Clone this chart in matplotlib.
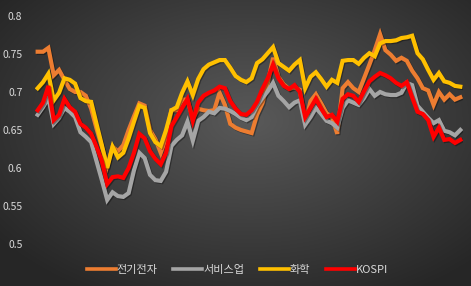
import matplotlib
matplotlib.use("Agg")
import matplotlib.pyplot as plt
import matplotlib.patheffects as pe
import numpy as np

plt.rcParams['font.family'] = ['Noto Sans CJK KR', 'DejaVu Sans']

# series values
elec = [0.753, 0.753, 0.758, 0.722, 0.729, 0.716, 0.704, 0.700, 0.700, 0.695,
        0.678, 0.652, 0.628, 0.603, 0.628, 0.622, 0.630, 0.650, 0.668, 0.685,
        0.682, 0.650, 0.638, 0.620, 0.640, 0.676, 0.676, 0.690, 0.690, 0.665,
        0.678, 0.676, 0.675, 0.676, 0.699, 0.683, 0.658, 0.653, 0.650, 0.648,
        0.646, 0.670, 0.685, 0.712, 0.745, 0.720, 0.710, 0.704, 0.706, 0.703,
        0.659, 0.688, 0.697, 0.685, 0.672, 0.667, 0.645, 0.705, 0.713, 0.705,
        0.700, 0.718, 0.736, 0.755, 0.776, 0.755, 0.749, 0.741, 0.745, 0.741,
        0.728, 0.718, 0.705, 0.702, 0.683, 0.700, 0.690, 0.697, 0.690, 0.693]
service = [0.670, 0.680, 0.692, 0.658, 0.666, 0.679, 0.674, 0.667, 0.647, 0.641,
           0.634, 0.609, 0.584, 0.558, 0.568, 0.563, 0.562, 0.567, 0.597, 0.620,
           0.613, 0.591, 0.584, 0.583, 0.595, 0.629, 0.637, 0.643, 0.661, 0.636,
           0.662, 0.667, 0.674, 0.672, 0.679, 0.678, 0.675, 0.671, 0.666, 0.663,
           0.667, 0.682, 0.692, 0.701, 0.712, 0.695, 0.688, 0.680, 0.686, 0.689,
           0.657, 0.667, 0.679, 0.671, 0.662, 0.659, 0.653, 0.679, 0.689, 0.686,
           0.683, 0.692, 0.704, 0.695, 0.700, 0.697, 0.696, 0.696, 0.699, 0.712,
           0.709, 0.682, 0.674, 0.666, 0.659, 0.663, 0.649, 0.647, 0.643, 0.650]
chem = [0.705, 0.713, 0.724, 0.689, 0.699, 0.718, 0.716, 0.711, 0.692, 0.688,
        0.687, 0.658, 0.630, 0.600, 0.628, 0.614, 0.620, 0.639, 0.661, 0.682,
        0.679, 0.646, 0.634, 0.629, 0.650, 0.676, 0.680, 0.699, 0.714, 0.696,
        0.717, 0.730, 0.736, 0.739, 0.742, 0.742, 0.732, 0.721, 0.716, 0.713,
        0.718, 0.738, 0.743, 0.751, 0.759, 0.738, 0.733, 0.728, 0.736, 0.742,
        0.705, 0.720, 0.726, 0.717, 0.707, 0.716, 0.712, 0.741, 0.742, 0.742,
        0.737, 0.745, 0.751, 0.747, 0.764, 0.767, 0.767, 0.768, 0.771, 0.772,
        0.774, 0.751, 0.743, 0.729, 0.716, 0.725, 0.714, 0.712, 0.708, 0.707]
kospi = [0.676, 0.686, 0.708, 0.663, 0.670, 0.691, 0.680, 0.674, 0.658, 0.653,
         0.645, 0.628, 0.609, 0.579, 0.588, 0.589, 0.587, 0.600, 0.620, 0.645,
         0.639, 0.622, 0.612, 0.605, 0.620, 0.655, 0.667, 0.679, 0.691, 0.662,
         0.686, 0.695, 0.699, 0.702, 0.707, 0.705, 0.688, 0.678, 0.671, 0.670,
         0.676, 0.687, 0.704, 0.718, 0.736, 0.718, 0.708, 0.704, 0.709, 0.700,
         0.667, 0.679, 0.691, 0.678, 0.667, 0.670, 0.661, 0.691, 0.697, 0.695,
         0.687, 0.701, 0.714, 0.720, 0.725, 0.722, 0.718, 0.712, 0.708, 0.713,
         0.693, 0.674, 0.671, 0.663, 0.641, 0.653, 0.637, 0.638, 0.633, 0.637]

names = ['전기전자', '서비스업', '화학', 'KOSPI']
colors = ['#ED7D31', '#A5A5A5', '#FFC000', '#FF0000']
yticks = [0.5, 0.55, 0.6, 0.65, 0.7, 0.75, 0.8]
ytick_labels = ['0.5', '0.55', '0.6', '0.65', '0.7', '0.75', '0.8']

fig = plt.figure(figsize=(4.71, 2.86), dpi=100)

# radial dark background
bg = fig.add_axes([0, 0, 1, 1])
yy, xx = np.mgrid[0:286, 0:471]
r = np.sqrt(((xx - 250) / 300.0) ** 2 + ((yy - 120) / 190.0) ** 2)
shade = np.clip(0.35 - 0.19 * r, 0.15, 0.35)
bg.imshow(np.dstack([shade, shade, shade]), aspect='auto', extent=[0, 1, 0, 1])
bg.axis('off')

ax = fig.add_axes([35 / 471, 1 - 244 / 286, 428 / 471, 228 / 286])
ax.patch.set_alpha(0)
x = np.arange(len(kospi))
shadow = [pe.SimpleLineShadow(offset=(0.8, -0.8), shadow_color='black', alpha=0.35), pe.Normal()]
for vals, name, c in zip([elec, service, chem, kospi], names, colors):
    ax.plot(x, vals, color=c, lw=3, label=name, solid_joinstyle='miter',
            path_effects=shadow)

ax.set_xlim(-0.5, len(kospi) - 0.5)
ax.set_ylim(0.5, 0.8)
ax.set_yticks(yticks)
ax.set_yticklabels(ytick_labels)
ax.set_xticks([])
ax.tick_params(axis='y', length=0, pad=9, labelsize=7.5, labelcolor='#D9D9D9')
for s in ax.spines.values():
    s.set_visible(False)

leg = fig.legend(loc='center', bbox_to_anchor=(0.504, 1 - 270 / 286), ncol=4,
                 frameon=False, fontsize=8, handlelength=2.6, handletextpad=0.1,
                 columnspacing=1.4)
for t in leg.get_texts():
    t.set_color('#D9D9D9')
for h in leg.get_lines():
    h.set_path_effects([])
    h.set_linewidth(2.6)

fig.savefig('out.png', dpi=100)
